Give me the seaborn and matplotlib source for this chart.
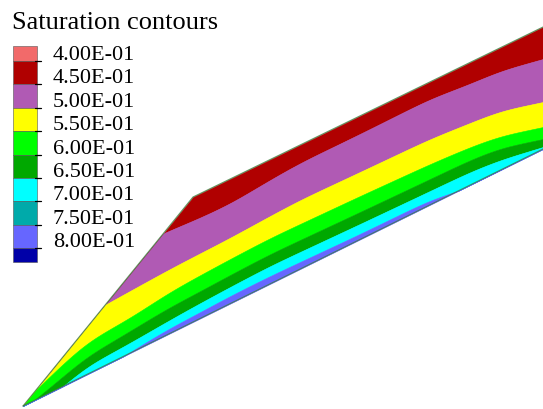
import numpy as np
import matplotlib
matplotlib.use("Agg")
import matplotlib.pyplot as plt
import seaborn as sns
from matplotlib.patches import Rectangle

# ---------------- data ----------------
# legend levels and colours
level_labels = ["4.00E-01", "4.50E-01", "5.00E-01", "5.50E-01", "6.00E-01",
                "6.50E-01", "7.00E-01", "7.50E-01", "8.00E-01"]
level_colors = ["#F26A6A", "#B00000", "#B05AB4", "#FFFF00", "#00FF00",
                "#00A800", "#00FFFF", "#00AAAA", "#6666FF", "#0000A8"]

# domain outline (image units, y downward)
top_x = [23, 193, 543]
top_y = [407, 198, 28]
bot_x = [23, 543]
bot_y = [407, 150]

# stations along x where contour boundaries were read
station_x = [23, 53, 87, 110, 130, 168, 193, 230, 270, 300, 360, 430, 470, 500, 543]
# boundary 0.45/0.50 (dark red / purple)
b_red_purple = [300, 288, 272, 262, 250, 232, 222, 205, 181, 164, 135, 100, 85, 72, 60]
# boundary 0.50/0.55 (purple / yellow)
b_purple_yellow = [352, 335, 316, 303, 292, 271, 258, 239, 217, 201, 173, 140, 124, 112, 103]
# boundary 0.55/0.60 (yellow / green)
b_yellow_green = [404, 374, 343, 330, 319, 294, 280, 260, 239, 225, 197, 165, 148, 137, 128]
# boundary 0.60/0.65 (green / dark green)
b_green_dkgreen = [410, 386, 357, 344, 332, 309, 296, 276, 255, 241, 213, 180, 161, 149, 140]
# boundary 0.65/0.70 (dark green / cyan)
b_dkgreen_cyan = [415, 396, 367, 355, 344, 322, 308, 288, 267, 253, 225, 192, 173, 161, 148]
# boundary 0.70/0.75 (cyan / blue)
b_cyan_blue = [420, 402, 380, 366, 353, 330, 317, 297, 277, 263, 235, 201, 188, 177, 156]

band_colors = ["#B00000", "#B05AB4", "#FFFF00", "#00FF00", "#00A800", "#00FFFF", "#6666FF"]

# ---------------- plot ----------------
sns.set_style("white")
plt.rcParams["font.family"] = ["Liberation Serif", "DejaVu Serif"]

fig = plt.figure(figsize=(5.43, 4.10), dpi=100)
ax = fig.add_axes([0, 0, 1, 1])
ax.set_xlim(0, 543)
ax.set_ylim(410, 0)
ax.axis("off")

xs = np.linspace(23, 543, 1041)  # 0.5 unit spacing
top = np.interp(xs, top_x, top_y)
bot = np.interp(xs, bot_x, bot_y)


def smooth(v, sigma_units=14.0):
    dx = xs[1] - xs[0]
    s = sigma_units / dx
    half = int(3 * s)
    k = np.exp(-0.5 * (np.arange(-half, half + 1) / s) ** 2)
    k /= k.sum()
    # linear extrapolation padding to keep ends in place
    left = v[0] + (v[0] - v[1:half + 1][::-1])
    right = v[-1] + (v[-1] - v[-half - 1:-1][::-1])
    vp = np.concatenate([left, v, right])
    return np.convolve(vp, k, mode="valid")


edges = [top]
for b in [b_red_purple, b_purple_yellow, b_yellow_green, b_green_dkgreen,
          b_dkgreen_cyan, b_cyan_blue]:
    line = smooth(np.interp(xs, station_x, b))
    edges.append(np.clip(line, top, bot))
edges.append(bot)

for k, col in enumerate(band_colors):
    ax.fill_between(xs, edges[k], edges[k + 1], color=col, lw=0.4,
                    edgecolor=col, zorder=2)

# outline of domain
ax.plot(top_x, top_y, color="#3C7D3C", lw=0.8, alpha=0.8, zorder=3)
ax.plot(bot_x, bot_y, color="#3C7D3C", lw=0.8, alpha=0.8, zorder=3)

# title
ax.text(12, 29, "Saturation contours", fontsize=19, ha="left", va="baseline",
        color="black")

# legend boxes
step = 23.4
bounds = [47] + [62 + step * i for i in range(9)] + [263]
for i, col in enumerate(level_colors):
    y0, y1 = bounds[i], bounds[i + 1]
    ax.add_patch(Rectangle((13, y0), 24, y1 - y0, facecolor=col,
                           edgecolor="#555555", lw=0.4, zorder=4))
for i in range(1, len(bounds) - 1):
    ax.plot([35, 41], [bounds[i], bounds[i]], color="black", lw=0.9, zorder=5)

for i, lab in enumerate(level_labels):
    ax.text(53, bounds[i + 1] - 2, lab, fontsize=16, ha="left", va="baseline",
            color="black")

fig.savefig("out.png", dpi=100)
